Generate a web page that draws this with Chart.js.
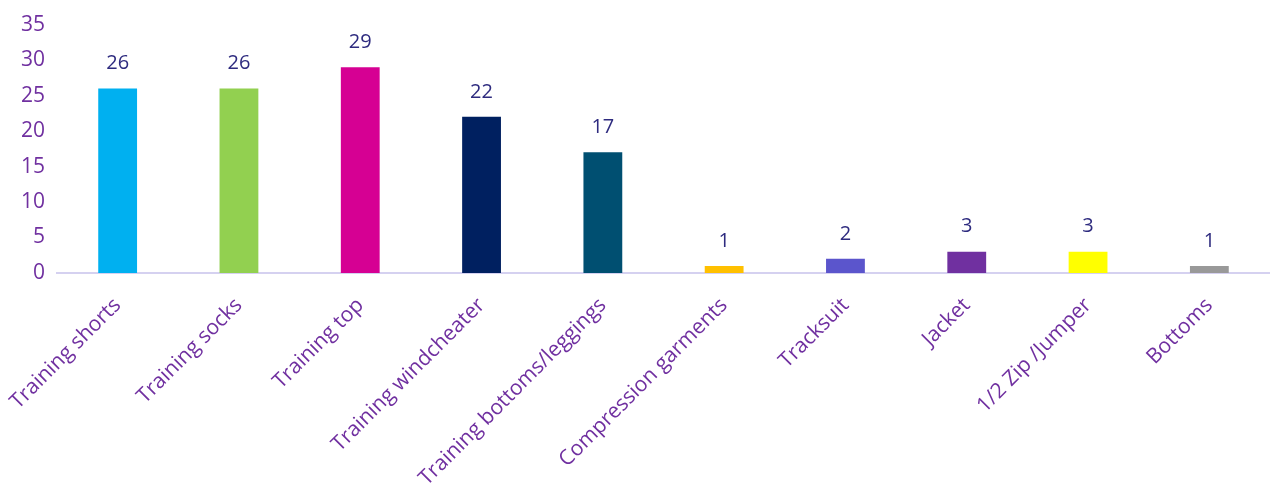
<!DOCTYPE html>
<html>
<head>
<meta charset="utf-8">
<script src="https://cdn.jsdelivr.net/npm/chart.js@4"></script>
<style>
  html, body { margin: 0; padding: 0; background: #fff; }
  #wrap { width: 1270px; height: 487px; }
</style>
</head>
<body>
<div id="wrap"><canvas id="chart"></canvas></div>
<script>
const categories = ['Training shorts', 'Training socks', 'Training top', 'Training windcheater',
  'Training bottoms/leggings', 'Compression garments', 'Tracksuit', 'Jacket', '1/2 Zip /Jumper', 'Bottoms'];
const counts = [26, 26, 29, 22, 17, 1, 2, 3, 3, 1];
const barColors = ['#00B0F0', '#92D050', '#D60093', '#002060', '#004F71',
  '#FFC000', '#5B55CC', '#7030A0', '#FFFF00', '#999999'];

// value above each bar
const valueLabels = {
  id: 'valueLabels',
  afterDatasetsDraw(chart) {
    const ctx = chart.ctx;
    const meta = chart.getDatasetMeta(0);
    ctx.save();
    ctx.font = '20px "Open Sans"';
    ctx.fillStyle = '#2E2B7F';
    ctx.textAlign = 'center';
    ctx.textBaseline = 'middle';
    meta.data.forEach(function(bar, i) {
      ctx.fillText(counts[i], bar.x, bar.y - 25);
    });
    ctx.restore();
  }
};

const ctx = document.getElementById('chart').getContext('2d');
new Chart(ctx, {
  type: 'bar',
  data: {
    labels: categories,
    datasets: [{
      data: counts,
      backgroundColor: barColors,
      barPercentage: 0.32,
      categoryPercentage: 1
    }]
  },
  options: {
    responsive: true,
    maintainAspectRatio: false,
    animation: false,
    layout: { padding: { top: 6, right: 0, left: 0, bottom: 0 } },
    plugins: { legend: { display: false }, tooltip: { enabled: false } },
    scales: {
      x: {
        grid: { display: false, drawTicks: false },
        border: { display: true, color: '#D5D1F0', width: 2 },
        ticks: {
          color: '#7030A0',
          font: { family: 'Open Sans', size: 21 },
          minRotation: 45,
          maxRotation: 45,
          padding: 20
        },
        afterFit(scale) {
          scale.height = 214;
          // rotated labels may overflow to the left; keep the plot flush with the y axis
          scale.paddingLeft = 0;
          scale.paddingRight = 0;
        }
      },
      y: {
        min: 0,
        max: 35,
        grid: { display: false, drawTicks: false },
        border: { display: false },
        ticks: {
          stepSize: 5,
          color: '#7030A0',
          font: { family: 'Open Sans', size: 21 },
          padding: 12
        },
        afterFit(scale) { scale.width = 57; }
      }
    }
  },
  plugins: [valueLabels]
});
</script>
</body>
</html>
